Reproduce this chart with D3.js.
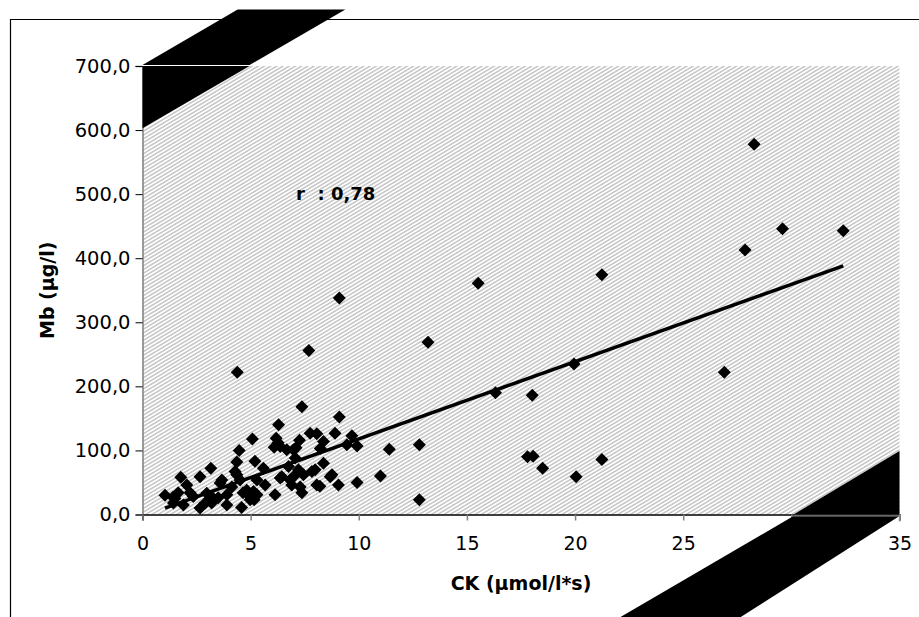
<!DOCTYPE html>
<html>
<head>
<meta charset="utf-8">
<script src="https://cdn.jsdelivr.net/npm/d3@7"></script>
<style>
  body { margin: 0; background: #fff; }
  svg text { font-family: "DejaVu Sans", Arial, sans-serif; }
</style>
</head>
<body>
<div id="chart"></div>
<script>
// CK (µmol/l*s) and Mb (µg/l) pairs
const ck = [1.04, 1.41, 1.43, 1.5, 1.65, 1.77, 1.89, 2.05, 2.2, 2.35, 2.66, 2.66, 2.9, 2.97, 3.16, 3.2,
  3.28, 3.5, 3.59, 3.67, 3.9, 3.9, 4.13, 4.28, 4.36, 4.36, 4.38, 4.47, 4.51, 4.58, 4.65, 4.82, 4.98, 4.98,
  5.08, 5.13, 5.16, 5.2, 5.29, 5.29, 5.59, 5.67, 6.09, 6.13, 6.18, 6.27, 6.29, 6.37, 6.37, 6.44, 6.67, 6.75,
  6.83, 6.9, 6.98, 6.98, 7.06, 7.1, 7.21, 7.26, 7.29, 7.37, 7.37, 7.44, 7.69, 7.75, 7.83, 7.98, 8.06, 8.06,
  8.2, 8.22, 8.37, 8.37, 8.68, 8.76, 8.9, 9.06, 9.1, 9.1, 9.45, 9.68, 9.92, 9.92,
  11.0, 11.41, 12.8, 12.8, 13.2, 15.52, 16.32, 17.8, 18.02, 18.06, 18.5, 19.95, 20.05, 21.24, 21.24,
  26.9, 27.86, 28.28, 29.59, 32.4];
const mb = [30, 27, 18, 25, 34, 58, 15, 46, 34, 28, 59, 10, 18, 33, 72, 18,
  25, 26, 49, 54, 31, 15, 43, 67, 62, 82, 222, 100, 54, 11, 34, 38, 28, 23,
  118, 36, 23, 83, 54, 31, 72, 46, 105, 31, 119, 112, 140, 106, 57, 59, 101, 75,
  54, 46, 101, 59, 88, 104, 70, 116, 43, 168, 34, 62, 256, 127, 67, 70, 126, 46,
  44, 103, 114, 80, 59, 62, 127, 46, 152, 338, 109, 123, 107, 50,
  60, 102, 109, 23, 269, 361, 190, 90, 186, 91, 72, 235, 59, 374, 86,
  222, 413, 578, 446, 443];

// regression line end points
const trendX = [1.04, 32.4];
const trendY = [10, 388];

const xTicks = [0, 5, 10, 15, 20, 25, 30, 35];
const yTicks = [0, 100, 200, 300, 400, 500, 600, 700];
const rLabel = "r  : 0,78";
const xTitle = "CK (µmol/l*s)";
const yTitle = "Mb (µg/l)";

const width = 919;
const height = 617;
const margin = { top: 66, right: 19.5, bottom: 102.5, left: 142.5 };

const svg = d3.select("#chart")
  .append("svg")
  .attr("width", width)
  .attr("height", height);

const x = d3.scaleLinear()
  .domain([0, 35])
  .range([margin.left, width - margin.right]);

const y = d3.scaleLinear()
  .domain([0, 700])
  .range([height - margin.bottom, margin.top]);

// hatch pattern for the plot area
const defs = svg.append("defs");
const pat = defs.append("pattern")
  .attr("id", "hatch")
  .attr("patternUnits", "userSpaceOnUse")
  .attr("width", 3.2)
  .attr("height", 3.2)
  .attr("patternTransform", "rotate(-31)");
pat.append("rect").attr("width", 3.2).attr("height", 3.2).attr("fill", "#fff");
pat.append("line")
  .attr("x1", 0).attr("y1", 0.8).attr("x2", 3.2).attr("y2", 0.8)
  .attr("stroke", "#a8a8a8").attr("stroke-width", 1);

// outer frame (only left and top are in the picture)
svg.append("path")
  .attr("d", `M10.5,${height} V19.5 H${width}`)
  .attr("fill", "none")
  .attr("stroke", "#000")
  .attr("stroke-width", 1.2);

svg.append("rect")
  .attr("x", x(0))
  .attr("y", y(700))
  .attr("width", x(35) - x(0))
  .attr("height", y(0) - y(700))
  .attr("fill", "url(#hatch)");

// axes
const fmt = d => d3.format(".1f")(d).replace(".", ",");

const yAxis = svg.append("g")
  .attr("transform", `translate(${x(0)},0)`)
  .call(d3.axisLeft(y).tickValues(yTicks).tickSize(7).tickPadding(5).tickFormat(fmt));
yAxis.select(".domain").attr("stroke", "#808080").attr("stroke-width", 1.5);
yAxis.selectAll(".tick line").attr("stroke", "#000");
yAxis.selectAll("text").attr("font-size", 19.5).attr("fill", "#000");

const xAxis = svg.append("g")
  .attr("transform", `translate(0,${y(0)})`)
  .call(d3.axisBottom(x).tickValues(xTicks).tickSize(6).tickPadding(16));
xAxis.select(".domain").attr("stroke", "#000").attr("stroke-width", 1.5);
xAxis.selectAll(".tick line").attr("stroke", "#808080").attr("stroke-width", 1.5);
xAxis.selectAll("text").attr("font-size", 19).attr("fill", "#000");

// black corner bands (in data units so they follow the scales)
const bands = [
  [[0, 700], [0, 603], [4.95, 700]],
  [[0, 701.5], [4.95, 701.5], [9.38, 788], [4.4, 788]],
  [[30.1, 0], [35, 0], [35, 99]],
  [[30.1, -2.5], [35, -2.5], [27.66, -160], [22.1, -160]]
];
svg.append("g")
  .selectAll("path")
  .data(bands)
  .join("path")
  .attr("d", d => "M" + d.map(p => [x(p[0]), y(p[1])].join(",")).join("L") + "Z")
  .attr("fill", "#000");

// thin separators between the bands and the plot frame
svg.append("line")
  .attr("x1", x(0)).attr("x2", x(4.95))
  .attr("y1", y(700) - 0.5).attr("y2", y(700) - 0.5)
  .attr("stroke", "#fff").attr("stroke-width", 1.2);
svg.append("line")
  .attr("x1", x(30.1)).attr("x2", x(35))
  .attr("y1", y(0) + 1.5).attr("y2", y(0) + 1.5)
  .attr("stroke", "#909090").attr("stroke-width", 1.2);
svg.append("line")
  .attr("x1", x(35)).attr("x2", x(35))
  .attr("y1", y(0)).attr("y2", y(0) + 7)
  .attr("stroke", "#909090").attr("stroke-width", 1.5);

// trend line
svg.append("line")
  .attr("x1", x(trendX[0])).attr("y1", y(trendY[0]))
  .attr("x2", x(trendX[1])).attr("y2", y(trendY[1]))
  .attr("stroke", "#000")
  .attr("stroke-width", 3.5);

// points
const r = 6.5;
svg.append("g")
  .selectAll("path")
  .data(d3.range(ck.length))
  .join("path")
  .attr("transform", i => `translate(${x(ck[i])},${y(mb[i])})`)
  .attr("d", `M0,${-r}L${r},0L0,${r}L${-r},0Z`)
  .attr("fill", "#000");

// labels
svg.append("text")
  .attr("x", 296)
  .attr("y", 200)
  .attr("font-size", 18)
  .attr("font-weight", "bold")
  .style("white-space", "pre")
  .text(rLabel);

svg.append("text")
  .attr("x", (x(0) + x(35)) / 2 + 0)
  .attr("y", 590)
  .attr("text-anchor", "middle")
  .attr("font-size", 19)
  .attr("font-weight", "bold")
  .text(xTitle);

svg.append("text")
  .attr("transform", `translate(54,${(y(0) + y(700)) / 2}) rotate(-90)`)
  .attr("text-anchor", "middle")
  .attr("font-size", 19)
  .attr("font-weight", "bold")
  .text(yTitle);
</script>
</body>
</html>
